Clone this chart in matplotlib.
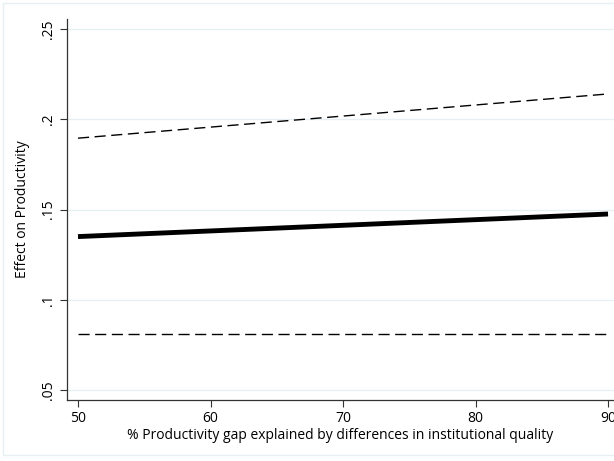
import matplotlib.pyplot as plt
from matplotlib.patches import Rectangle

# share of productivity gap explained (%), endpoints of the linear fit
gap_share = [50, 90]
effect = [0.135, 0.1475]
upper_ci = [0.1895, 0.214]
lower_ci = [0.081, 0.081]

yticks = [0.05, 0.10, 0.15, 0.20, 0.25]
ytick_labels = [".05", ".1", ".15", ".2", ".25"]
xticks = [50, 60, 70, 80, 90]

plt.rcParams['font.family'] = ['Open Sans', 'DejaVu Sans']

fig = plt.figure(figsize=(6.14, 4.61), dpi=100)
fig.patch.set_facecolor("white")
fig.patches.append(Rectangle((3 / 614, 6 / 461), 1.2, 1 - 9 / 461,
                             transform=fig.transFigure, fill=False,
                             edgecolor="#e6eff1", linewidth=1))

ax = fig.add_axes([67 / 614, 61 / 461, 547 / 614, 381 / 461])

ax.plot(gap_share, effect, color="black", linewidth=3.5, solid_capstyle="butt")
ax.plot(gap_share, upper_ci, color="black", linewidth=1, dashes=(8, 4))
ax.plot(gap_share, lower_ci, color="black", linewidth=1, dashes=(8, 4))

ax.set_xlim(49.17, 90.45)
ax.set_ylim(0.0445, 0.2555)
ax.set_xticks(xticks)
ax.set_yticks(yticks)
ax.set_yticklabels(ytick_labels, rotation=90, va="center")
ax.tick_params(axis="both", labelsize=10, length=5, width=0.8, color="#333333", pad=3)
ax.grid(axis="y", color="#e6eff1", linewidth=0.9)
ax.set_axisbelow(True)

for side in ["top", "right"]:
    ax.spines[side].set_visible(False)
for side in ["left", "bottom"]:
    ax.spines[side].set_color("#333333")
    ax.spines[side].set_linewidth(0.9)

ax.set_xlabel("% Productivity gap explained by differences in institutional quality",
              fontsize=10, labelpad=1)
ax.set_ylabel("Effect on Productivity", fontsize=10, labelpad=8)

fig.savefig("out.png", dpi=100)
